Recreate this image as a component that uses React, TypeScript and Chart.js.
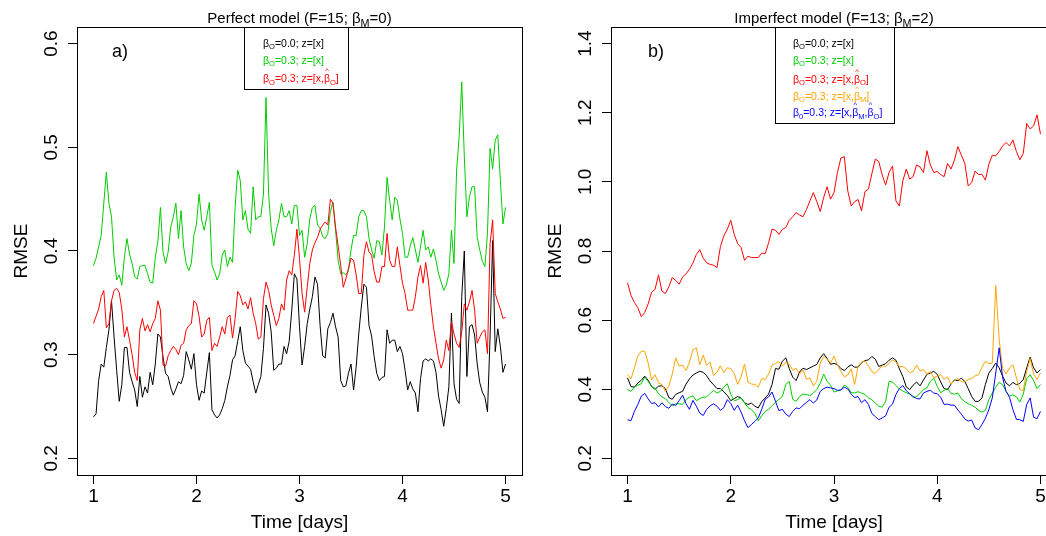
import React, { useEffect, useRef } from "react";
import { Chart, registerables } from "chart.js";
Chart.register(...registerables);

// ---------- data ----------
const X_TICKS = [1, 2, 3, 4, 5];
const A_Y_TICKS = [0.2, 0.3, 0.4, 0.5, 0.6];
const B_Y_TICKS = [0.2, 0.4, 0.6, 0.8, 1.0, 1.2, 1.4];
const T_START = 1;
const A_STEP = 0.025; // days between samples, panel a
const B_STEP = 1 / 30; // days between samples, panel b

const A_BLACK = [
  0.240, 0.243, 0.275, 0.291, 0.288, 0.307, 0.324, 0.352, 0.317, 0.285,
  0.255, 0.271, 0.307, 0.307, 0.283, 0.274, 0.266, 0.250, 0.279, 0.259,
  0.269, 0.263, 0.283, 0.271, 0.291, 0.320, 0.317, 0.298, 0.282, 0.279,
  0.268, 0.261, 0.267, 0.274, 0.272, 0.280, 0.303, 0.295, 0.286, 0.301,
  0.271, 0.256, 0.265, 0.263, 0.283, 0.302, 0.247, 0.242, 0.239, 0.242,
  0.248, 0.256, 0.269, 0.280, 0.295, 0.299, 0.313, 0.327, 0.304, 0.292,
  0.289, 0.286, 0.274, 0.263, 0.271, 0.279, 0.306, 0.348, 0.340, 0.322,
  0.285, 0.287, 0.291, 0.291, 0.308, 0.301, 0.313, 0.343, 0.378, 0.373,
  0.327, 0.290, 0.308, 0.330, 0.344, 0.356, 0.375, 0.368, 0.328, 0.299,
  0.297, 0.325, 0.331, 0.340, 0.327, 0.317, 0.275, 0.269, 0.270, 0.282,
  0.291, 0.266, 0.288, 0.320, 0.346, 0.368, 0.365, 0.328, 0.318, 0.298,
  0.282, 0.275, 0.278, 0.279, 0.324, 0.311, 0.314, 0.314, 0.303, 0.308,
  0.301, 0.285, 0.266, 0.274, 0.267, 0.263, 0.245, 0.277, 0.294, 0.296,
  0.294, 0.296, 0.294, 0.283, 0.260, 0.247, 0.231, 0.248, 0.269, 0.340,
  0.272, 0.257, 0.253, 0.356, 0.400, 0.279, 0.327, 0.329, 0.319, 0.291,
  0.273, 0.264, 0.259, 0.245, 0.317, 0.410, 0.303, 0.325, 0.308, 0.283,
  0.291,
];
const A_GREEN = [
  0.386, 0.393, 0.404, 0.415, 0.446, 0.476, 0.446, 0.433, 0.394, 0.372,
  0.377, 0.367, 0.394, 0.412, 0.397, 0.388, 0.375, 0.373, 0.385, 0.386,
  0.386, 0.378, 0.370, 0.369, 0.394, 0.409, 0.442, 0.399, 0.388, 0.399,
  0.423, 0.433, 0.446, 0.412, 0.439, 0.404, 0.388, 0.381, 0.388, 0.415,
  0.426, 0.455, 0.430, 0.420, 0.433, 0.447, 0.386, 0.380, 0.372, 0.378,
  0.396, 0.401, 0.385, 0.394, 0.389, 0.442, 0.478, 0.468, 0.430, 0.439,
  0.421, 0.417, 0.462, 0.430, 0.433, 0.433, 0.455, 0.548, 0.455, 0.422,
  0.405, 0.420, 0.430, 0.446, 0.433, 0.433, 0.439, 0.426, 0.444, 0.444,
  0.415, 0.420, 0.394, 0.407, 0.431, 0.442, 0.444, 0.425, 0.422, 0.414,
  0.412, 0.417, 0.438, 0.447, 0.420, 0.391, 0.378, 0.379, 0.377, 0.381,
  0.401, 0.415, 0.415, 0.433, 0.439, 0.439, 0.433, 0.412, 0.401, 0.393,
  0.410, 0.409, 0.396, 0.423, 0.471, 0.449, 0.430, 0.452, 0.449, 0.431,
  0.417, 0.394, 0.394, 0.405, 0.413, 0.401, 0.389, 0.404, 0.420, 0.401,
  0.404, 0.394, 0.402, 0.391, 0.378, 0.370, 0.362, 0.367, 0.378, 0.420,
  0.388, 0.478, 0.510, 0.563, 0.491, 0.433, 0.452, 0.462, 0.462, 0.413,
  0.401, 0.390, 0.385, 0.417, 0.499, 0.479, 0.507, 0.512, 0.468, 0.426,
  0.442,
];
const A_RED = [
  0.330, 0.337, 0.344, 0.356, 0.362, 0.326, 0.330, 0.352, 0.362, 0.364,
  0.360, 0.344, 0.317, 0.327, 0.314, 0.300, 0.283, 0.275, 0.324, 0.335,
  0.323, 0.329, 0.322, 0.330, 0.335, 0.352, 0.343, 0.290, 0.289, 0.299,
  0.304, 0.308, 0.305, 0.300, 0.309, 0.311, 0.324, 0.328, 0.330, 0.352,
  0.349, 0.337, 0.317, 0.320, 0.333, 0.336, 0.304, 0.311, 0.308, 0.317,
  0.327, 0.320, 0.336, 0.338, 0.316, 0.335, 0.361, 0.357, 0.348, 0.351,
  0.344, 0.355, 0.340, 0.330, 0.315, 0.317, 0.354, 0.370, 0.362, 0.348,
  0.338, 0.328, 0.335, 0.349, 0.343, 0.372, 0.381, 0.377, 0.396, 0.421,
  0.393, 0.359, 0.341, 0.365, 0.388, 0.401, 0.408, 0.413, 0.421, 0.425,
  0.428, 0.425, 0.450, 0.446, 0.423, 0.405, 0.386, 0.365, 0.373, 0.383,
  0.393, 0.391, 0.377, 0.359, 0.359, 0.396, 0.409, 0.399, 0.396, 0.380,
  0.370, 0.370, 0.385, 0.385, 0.417, 0.391, 0.385, 0.385, 0.404, 0.386,
  0.369, 0.359, 0.343, 0.343, 0.343, 0.356, 0.375, 0.386, 0.369, 0.389,
  0.372, 0.348, 0.327, 0.311, 0.296, 0.287, 0.295, 0.314, 0.304, 0.332,
  0.320, 0.311, 0.307, 0.322, 0.349, 0.343, 0.351, 0.362, 0.343, 0.311,
  0.317, 0.322, 0.324, 0.301, 0.407, 0.430, 0.359, 0.351, 0.344, 0.335,
  0.336,
];

const B_BLACK = [
  0.433, 0.408, 0.406, 0.418, 0.426, 0.438, 0.426, 0.408, 0.400, 0.409,
  0.410, 0.402, 0.376, 0.371, 0.385, 0.390, 0.394, 0.415, 0.430, 0.441,
  0.447, 0.452, 0.449, 0.439, 0.424, 0.413, 0.402, 0.402, 0.393, 0.382,
  0.367, 0.373, 0.379, 0.375, 0.361, 0.356, 0.360, 0.351, 0.346, 0.364,
  0.375, 0.386, 0.414, 0.460, 0.458, 0.481, 0.491, 0.460, 0.435, 0.425,
  0.450, 0.461, 0.457, 0.462, 0.467, 0.472, 0.491, 0.503, 0.489, 0.472,
  0.475, 0.471, 0.460, 0.454, 0.464, 0.471, 0.464, 0.464, 0.477, 0.483,
  0.485, 0.495, 0.487, 0.466, 0.470, 0.474, 0.484, 0.491, 0.484, 0.459,
  0.437, 0.407, 0.399, 0.412, 0.421, 0.410, 0.427, 0.443, 0.447, 0.452,
  0.443, 0.421, 0.402, 0.399, 0.415, 0.427, 0.425, 0.432, 0.423, 0.402,
  0.379, 0.365, 0.365, 0.375, 0.414, 0.447, 0.460, 0.476, 0.462, 0.438,
  0.418, 0.410, 0.420, 0.413, 0.417, 0.428, 0.462, 0.493, 0.462, 0.447,
  0.457,
];
const B_GREEN = [
  0.399, 0.394, 0.406, 0.412, 0.416, 0.435, 0.423, 0.408, 0.403, 0.387,
  0.378, 0.373, 0.362, 0.352, 0.358, 0.358, 0.356, 0.370, 0.377, 0.381,
  0.367, 0.373, 0.377, 0.378, 0.388, 0.397, 0.389, 0.394, 0.406, 0.416,
  0.385, 0.367, 0.370, 0.375, 0.361, 0.347, 0.341, 0.331, 0.309, 0.323,
  0.336, 0.342, 0.353, 0.362, 0.371, 0.379, 0.414, 0.423, 0.371, 0.365,
  0.379, 0.386, 0.385, 0.382, 0.389, 0.399, 0.417, 0.444, 0.423, 0.412,
  0.392, 0.395, 0.398, 0.412, 0.406, 0.391, 0.389, 0.393, 0.389, 0.385,
  0.375, 0.370, 0.360, 0.351, 0.348, 0.365, 0.423, 0.421, 0.411, 0.401,
  0.395, 0.390, 0.386, 0.376, 0.379, 0.388, 0.399, 0.404, 0.423, 0.432,
  0.408, 0.390, 0.397, 0.402, 0.388, 0.386, 0.389, 0.373, 0.364, 0.358,
  0.354, 0.348, 0.339, 0.334, 0.339, 0.370, 0.389, 0.406, 0.420, 0.413,
  0.394, 0.380, 0.384, 0.378, 0.363, 0.386, 0.431, 0.442, 0.425, 0.402,
  0.414,
];
const B_RED = [
  0.708, 0.672, 0.651, 0.636, 0.610, 0.622, 0.647, 0.681, 0.689, 0.731,
  0.684, 0.677, 0.696, 0.723, 0.715, 0.704, 0.725, 0.734, 0.747, 0.765,
  0.790, 0.804, 0.779, 0.766, 0.761, 0.759, 0.752, 0.813, 0.844, 0.863,
  0.889, 0.848, 0.821, 0.810, 0.773, 0.785, 0.781, 0.781, 0.781, 0.794,
  0.792, 0.824, 0.863, 0.860, 0.848, 0.863, 0.868, 0.889, 0.899, 0.911,
  0.904, 0.899, 0.920, 0.945, 0.969, 0.943, 0.914, 0.955, 0.986, 0.950,
  0.969, 1.027, 1.069, 1.073, 0.974, 0.930, 0.943, 0.949, 0.916, 0.972,
  0.979, 1.023, 1.066, 1.059, 1.020, 0.991, 1.027, 1.046, 0.945, 0.930,
  1.003, 1.037, 1.008, 1.015, 1.049, 1.043, 1.027, 1.090, 1.049, 1.027,
  1.030, 1.021, 1.015, 1.053, 1.037, 1.063, 1.102, 1.077, 1.054, 0.988,
  0.998, 1.031, 1.021, 1.022, 1.005, 1.051, 1.077, 1.075, 1.088, 1.104,
  1.114, 1.104, 1.121, 1.088, 1.064, 1.082, 1.169, 1.153, 1.162, 1.194,
  1.138,
];
const B_ORANGE = [
  0.443, 0.430, 0.462, 0.496, 0.510, 0.510, 0.476, 0.427, 0.442, 0.418,
  0.414, 0.394, 0.409, 0.444, 0.491, 0.467, 0.470, 0.454, 0.479, 0.514,
  0.520, 0.471, 0.499, 0.469, 0.479, 0.440, 0.449, 0.468, 0.448, 0.462,
  0.460, 0.446, 0.414, 0.436, 0.473, 0.421, 0.415, 0.414, 0.406, 0.431,
  0.428, 0.444, 0.471, 0.475, 0.480, 0.467, 0.478, 0.473, 0.455, 0.461,
  0.444, 0.456, 0.429, 0.433, 0.410, 0.423, 0.476, 0.495, 0.487, 0.476,
  0.496, 0.471, 0.452, 0.436, 0.441, 0.459, 0.414, 0.466, 0.479, 0.482,
  0.467, 0.451, 0.446, 0.457, 0.468, 0.466, 0.475, 0.485, 0.479, 0.465,
  0.466, 0.459, 0.448, 0.452, 0.470, 0.453, 0.457, 0.443, 0.452, 0.433,
  0.438, 0.442, 0.429, 0.436, 0.415, 0.425, 0.431, 0.422, 0.421, 0.429,
  0.431, 0.439, 0.442, 0.464, 0.481, 0.474, 0.476, 0.700, 0.544, 0.460,
  0.444, 0.462, 0.471, 0.433, 0.399, 0.396, 0.452, 0.489, 0.444, 0.429,
  0.447,
];
const B_BLUE = [
  0.312, 0.309, 0.336, 0.356, 0.380, 0.388, 0.372, 0.359, 0.361, 0.349,
  0.361, 0.350, 0.345, 0.357, 0.353, 0.367, 0.383, 0.358, 0.342, 0.368,
  0.351, 0.331, 0.324, 0.342, 0.352, 0.358, 0.351, 0.339, 0.347, 0.370,
  0.359, 0.339, 0.354, 0.334, 0.309, 0.289, 0.298, 0.307, 0.317, 0.342,
  0.371, 0.378, 0.392, 0.365, 0.338, 0.342, 0.328, 0.321, 0.336, 0.346,
  0.344, 0.354, 0.362, 0.370, 0.360, 0.369, 0.394, 0.402, 0.406, 0.404,
  0.402, 0.397, 0.398, 0.406, 0.401, 0.386, 0.376, 0.379, 0.361, 0.370,
  0.356, 0.330, 0.321, 0.312, 0.317, 0.323, 0.348, 0.357, 0.385, 0.402,
  0.411, 0.396, 0.387, 0.379, 0.373, 0.372, 0.389, 0.394, 0.397, 0.389,
  0.387, 0.377, 0.356, 0.357, 0.354, 0.354, 0.340, 0.328, 0.314, 0.308,
  0.311, 0.288, 0.283, 0.298, 0.316, 0.341, 0.375, 0.447, 0.520, 0.433,
  0.394, 0.377, 0.341, 0.313, 0.312, 0.307, 0.356, 0.375, 0.319, 0.315,
  0.336,
];

// ---------- styling ----------
const FONT = '"Liberation Sans", Arial, Helvetica, sans-serif';
const C_BLACK = "#000000";
const C_GREEN = "#00CD00";
const C_RED = "#FF0000";
const C_ORANGE = "#FFA500";
const C_BLUE = "#0000FF";

type Seg = { t: string; sub?: boolean; hat?: boolean };

function drawRich(ctx: CanvasRenderingContext2D, segs: Seg[], x: number, y: number, size: number, color: string, align: "left" | "center") {
  const main = `${size}px ${FONT}`;
  const small = `${(size * 0.72).toFixed(2)}px ${FONT}`;
  const widths = segs.map((s) => {
    ctx.font = s.sub ? small : main;
    return ctx.measureText(s.t).width;
  });
  const total = widths.reduce((a, b) => a + b, 0);
  let cx = align === "center" ? x - total / 2 : x;
  ctx.fillStyle = color;
  ctx.textAlign = "left";
  ctx.textBaseline = "alphabetic";
  segs.forEach((s, i) => {
    ctx.font = s.sub ? small : main;
    ctx.fillText(s.t, cx, s.sub ? y + size * 0.28 : y);
    if (s.hat) {
      ctx.font = small;
      const hw = ctx.measureText("^").width;
      ctx.fillText("^", cx + widths[i] / 2 - hw / 2, y - size * 0.82);
    }
    cx += widths[i];
  });
}

const bO = (val: string): Seg[] => [{ t: "\u03B2" }, { t: "O", sub: true }, { t: `=${val}; z=[x` }];

type LegendItem = { segs: Seg[]; color: string; base: number };
type Panel = {
  title: Seg[];
  tag: string;
  tagX: number;
  step: number;
  series: { values: number[]; color: string }[];
  yMin: number;
  yMax: number;
  yTicks: number[];
  yWidth: number;
  padRight: number;
  legendBox: [number, number, number, number];
  legendX: number;
  legend: LegendItem[];
};

const PANEL_A: Panel = {
  title: [{ t: "Perfect model (F=15; \u03B2" }, { t: "M", sub: true }, { t: "=0)" }],
  tag: "a)",
  tagX: 112,
  step: A_STEP,
  series: [
    { values: A_BLACK, color: C_BLACK },
    { values: A_GREEN, color: C_GREEN },
    { values: A_RED, color: C_RED },
  ],
  yMin: 0.184,
  yMax: 0.616,
  yTicks: A_Y_TICKS,
  yWidth: 77,
  padRight: 18,
  legendBox: [244, 27, 348, 89],
  legendX: 263,
  legend: [
    { segs: [...bO("0.0"), { t: "]" }], color: C_BLACK, base: 46.5 },
    { segs: [...bO("0.3"), { t: "]" }], color: C_GREEN, base: 63.5 },
    { segs: [...bO("0.3"), { t: "," }, { t: "\u03B2", hat: true }, { t: "O", sub: true }, { t: "]" }], color: C_RED, base: 82 },
  ],
};

const PANEL_B: Panel = {
  title: [{ t: "Imperfect model (F=13; \u03B2" }, { t: "M", sub: true }, { t: "=2)" }],
  tag: "b)",
  tagX: 108,
  step: B_STEP,
  series: [
    { values: B_BLACK, color: C_BLACK },
    { values: B_GREEN, color: C_GREEN },
    { values: B_RED, color: C_RED },
    { values: B_ORANGE, color: C_ORANGE },
    { values: B_BLUE, color: C_BLUE },
  ],
  yMin: 0.152,
  yMax: 1.448,
  yTicks: B_Y_TICKS,
  yWidth: 71,
  padRight: 43,
  legendBox: [235, 27, 354, 123],
  legendX: 253,
  legend: [
    { segs: [...bO("0.0"), { t: "]" }], color: C_BLACK, base: 46.5 },
    { segs: [...bO("0.3"), { t: "]" }], color: C_GREEN, base: 63.5 },
    { segs: [...bO("0.3"), { t: "," }, { t: "\u03B2", hat: true }, { t: "O", sub: true }, { t: "]" }], color: C_RED, base: 82.5 },
    { segs: [...bO("0.3"), { t: "," }, { t: "\u03B2", hat: true }, { t: "M", sub: true }, { t: "]" }], color: C_ORANGE, base: 99.5 },
    {
      segs: [
        { t: "\u03B2" }, { t: "0", sub: true }, { t: "=0.3; z=[x," },
        { t: "\u03B2", hat: true }, { t: "M", sub: true }, { t: "," },
        { t: "\u03B2", hat: true }, { t: "O", sub: true }, { t: "]" },
      ],
      color: C_BLUE,
      base: 116,
    },
  ],
};

function decorPlugin(p: Panel) {
  return {
    id: "decor",
    afterDraw(chart: any) {
      const ctx: CanvasRenderingContext2D = chart.ctx;
      const ca = chart.chartArea;
      const xs = chart.scales.x;
      const ys = chart.scales.y;
      ctx.save();
      // plot box
      ctx.strokeStyle = "#000";
      ctx.lineWidth = 1;
      ctx.strokeRect(Math.round(ca.left) + 0.5, Math.round(ca.top) + 0.5, Math.round(ca.right - ca.left), Math.round(ca.bottom - ca.top));
      // title
      drawRich(ctx, p.title, (ca.left + ca.right) / 2, 23, 15, "#000", "center");
      // panel tag
      ctx.fillStyle = "#000";
      ctx.font = `18px ${FONT}`;
      ctx.textAlign = "left";
      ctx.textBaseline = "alphabetic";
      ctx.fillText(p.tag, p.tagX, 57);
      // x tick labels
      ctx.font = `19px ${FONT}`;
      ctx.textAlign = "center";
      ctx.textBaseline = "middle";
      X_TICKS.forEach((v) => ctx.fillText(String(v), xs.getPixelForValue(v), ca.bottom + 22));
      // y tick labels (rotated, as in R)
      p.yTicks.forEach((v) => {
        ctx.save();
        ctx.translate(ca.left - 25.5, ys.getPixelForValue(v));
        ctx.rotate(-Math.PI / 2);
        ctx.fillText(v.toFixed(1), 0, 0);
        ctx.restore();
      });
      // axis titles
      ctx.fillText("Time [days]", (ca.left + ca.right) / 2, ca.bottom + 48);
      ctx.save();
      ctx.translate(ca.left - 55, (ca.top + ca.bottom) / 2);
      ctx.rotate(-Math.PI / 2);
      ctx.fillText("RMSE", 0, 0);
      ctx.restore();
      // legend
      const [l, t, r, b] = p.legendBox;
      ctx.fillStyle = "#fff";
      ctx.fillRect(l, t, r - l, b - t);
      ctx.strokeStyle = "#000";
      ctx.strokeRect(l + 0.5, t + 0.5, r - l, b - t);
      p.legend.forEach((it) => drawRich(ctx, it.segs, p.legendX, it.base, 10.5, it.color, "left"));
      ctx.restore();
    },
  };
}

function makeConfig(p: Panel): any {
  const datasets = p.series
    .map((s) => ({
      data: s.values.map((v, i) => ({ x: T_START + i * p.step, y: v })),
      borderColor: s.color,
      backgroundColor: s.color,
      borderWidth: 1,
      pointRadius: 0,
      tension: 0,
      fill: false,
    }))
    .reverse(); // first dataset is drawn on top in Chart.js; R draws the last series on top
  return {
    type: "line",
    data: { datasets },
    options: {
      responsive: false,
      animation: false,
      devicePixelRatio: 1,
      events: [],
      layout: { padding: { top: 27, right: p.padRight, left: 0, bottom: 0 } },
      plugins: { legend: { display: false }, tooltip: { enabled: false }, title: { display: false } },
      scales: {
        x: {
          type: "linear",
          min: 0.84,
          max: 5.16,
          afterBuildTicks: (s: any) => {
            s.ticks = X_TICKS.map((v) => ({ value: v }));
          },
          afterFit: (s: any) => {
            s.height = 61;
          },
          ticks: { display: false },
          grid: { display: true, drawOnChartArea: false, drawTicks: true, tickLength: 9, color: "#000", lineWidth: 1 },
          border: { display: false },
        },
        y: {
          type: "linear",
          min: p.yMin,
          max: p.yMax,
          afterBuildTicks: (s: any) => {
            s.ticks = p.yTicks.map((v) => ({ value: v }));
          },
          afterFit: (s: any) => {
            s.width = p.yWidth;
          },
          ticks: { display: false },
          grid: { display: true, drawOnChartArea: false, drawTicks: true, tickLength: 9, color: "#000", lineWidth: 1 },
          border: { display: false },
        },
      },
    },
    plugins: [decorPlugin(p)],
  };
}

function PanelChart({ panel, left, width }: { panel: Panel; left: number; width: number }) {
  const ref = useRef<HTMLCanvasElement>(null);
  useEffect(() => {
    if (!ref.current) return;
    const chart = new Chart(ref.current, makeConfig(panel));
    return () => chart.destroy();
  }, [panel]);
  return (
    <canvas
      ref={ref}
      width={width}
      height={536}
      style={{ position: "absolute", left, top: 0, width, height: 536 }}
    />
  );
}

export default function App() {
  return (
    <div style={{ position: "fixed", left: 0, top: 0, width: 1046, height: 536, overflow: "hidden", background: "#fff" }}>
      <PanelChart panel={PANEL_A} left={0} width={540} />
      <PanelChart panel={PANEL_B} left={540} width={560} />
    </div>
  );
}
